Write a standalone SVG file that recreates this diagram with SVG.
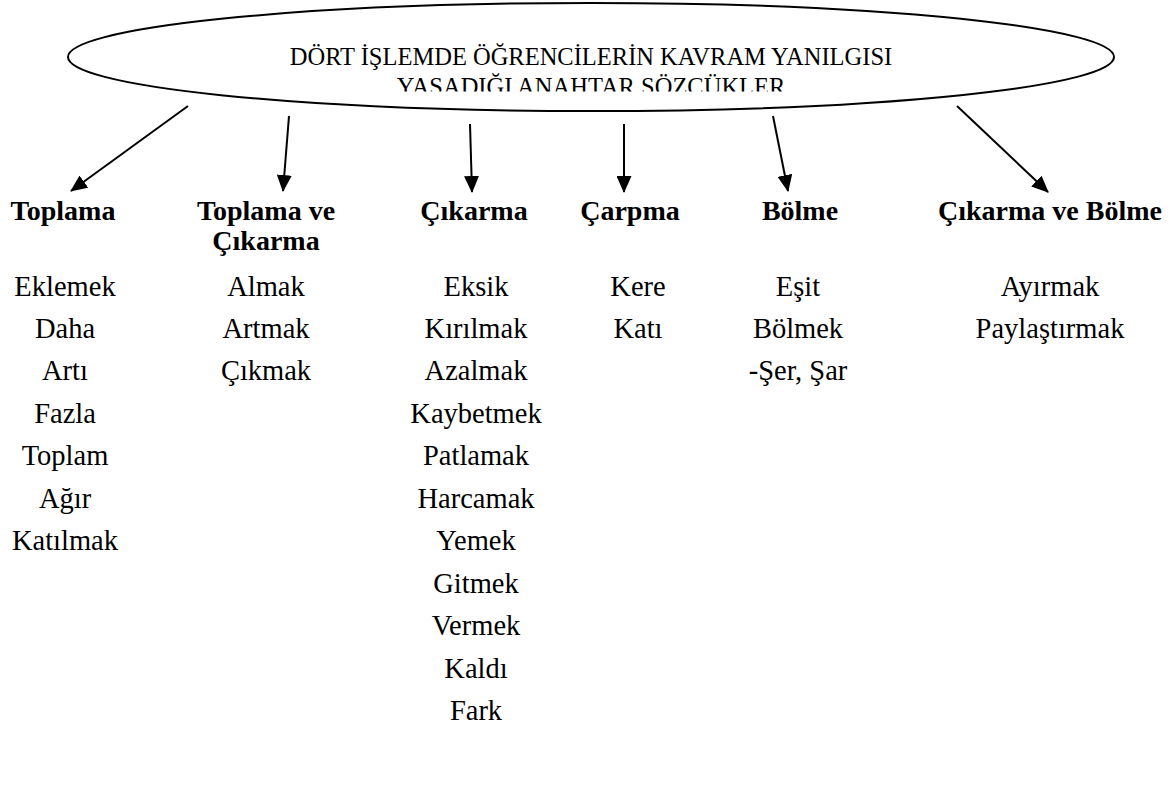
<svg xmlns="http://www.w3.org/2000/svg" width="1172" height="798" viewBox="0 0 1172 798">
<style>
.title{font-family:"Liberation Serif","Times New Roman",serif;font-size:24.5px;fill:#000;text-anchor:middle}
.hd{font-family:"Liberation Serif","Times New Roman",serif;font-size:28px;font-weight:bold;fill:#000;text-anchor:middle}
.it{font-family:"Liberation Serif","Times New Roman",serif;font-size:28.5px;fill:#000;text-anchor:middle}
.conn line{stroke:#000;stroke-width:2;fill:none;marker-end:url(#ah)}
</style>
<defs>
<marker id="ah" viewBox="0 0 17 15" markerWidth="17" markerHeight="15" refX="16" refY="7.5" orient="auto" markerUnits="userSpaceOnUse">
<path d="M0,0 L17,7.5 L0,15 z" fill="#000"/>
</marker>
<clipPath id="clip2"><rect x="0" y="0" width="1172" height="91.5"/></clipPath>
</defs>
<rect width="1172" height="798" fill="#fff"/>
<g id="root">
<ellipse cx="591" cy="57" rx="523" ry="54" fill="#fff" stroke="#000" stroke-width="2"/>
<text class="title" x="591" y="65">DÖRT İŞLEMDE ÖĞRENCİLERİN KAVRAM YANILGISI</text>
<text class="title" x="591" y="94.5" clip-path="url(#clip2)">YASADIĞI ANAHTAR SÖZCÜKLER</text>
</g>
<g class="conn" id="connectors">
<line x1="188" y1="106" x2="71" y2="191"/>
<line x1="289" y1="116" x2="283" y2="191"/>
<line x1="470" y1="124" x2="472" y2="192"/>
<line x1="624" y1="124" x2="624" y2="192"/>
<line x1="773" y1="116" x2="788" y2="191"/>
<line x1="957" y1="106" x2="1048" y2="192"/>
</g>
<g id="toplama">
<text class="hd" x="63" y="220">Toplama</text>
<text class="it" x="65" y="296">Eklemek</text>
<text class="it" x="65" y="338">Daha</text>
<text class="it" x="65" y="380">Artı</text>
<text class="it" x="65" y="423">Fazla</text>
<text class="it" x="65" y="465">Toplam</text>
<text class="it" x="65" y="508">Ağır</text>
<text class="it" x="65" y="550">Katılmak</text>
</g>
<g id="toplama-ve-cikarma">
<text class="hd" x="266" y="220">Toplama ve</text>
<text class="hd" x="266" y="250">Çıkarma</text>
<text class="it" x="266" y="296">Almak</text>
<text class="it" x="266" y="338">Artmak</text>
<text class="it" x="266" y="380">Çıkmak</text>
</g>
<g id="cikarma">
<text class="hd" x="474" y="220">Çıkarma</text>
<text class="it" x="476" y="296">Eksik</text>
<text class="it" x="476" y="338">Kırılmak</text>
<text class="it" x="476" y="380">Azalmak</text>
<text class="it" x="476" y="423">Kaybetmek</text>
<text class="it" x="476" y="465">Patlamak</text>
<text class="it" x="476" y="508">Harcamak</text>
<text class="it" x="476" y="550">Yemek</text>
<text class="it" x="476" y="593">Gitmek</text>
<text class="it" x="476" y="635">Vermek</text>
<text class="it" x="476" y="678">Kaldı</text>
<text class="it" x="476" y="720">Fark</text>
</g>
<g id="carpma">
<text class="hd" x="630" y="220">Çarpma</text>
<text class="it" x="638" y="296">Kere</text>
<text class="it" x="638" y="338">Katı</text>
</g>
<g id="bolme">
<text class="hd" x="800" y="220">Bölme</text>
<text class="it" x="798" y="296">Eşit</text>
<text class="it" x="798" y="338">Bölmek</text>
<text class="it" x="798" y="380">-Şer, Şar</text>
</g>
<g id="cikarma-ve-bolme">
<text class="hd" x="1050" y="220">Çıkarma ve Bölme</text>
<text class="it" x="1050" y="296">Ayırmak</text>
<text class="it" x="1050" y="338">Paylaştırmak</text>
</g>
</svg>
